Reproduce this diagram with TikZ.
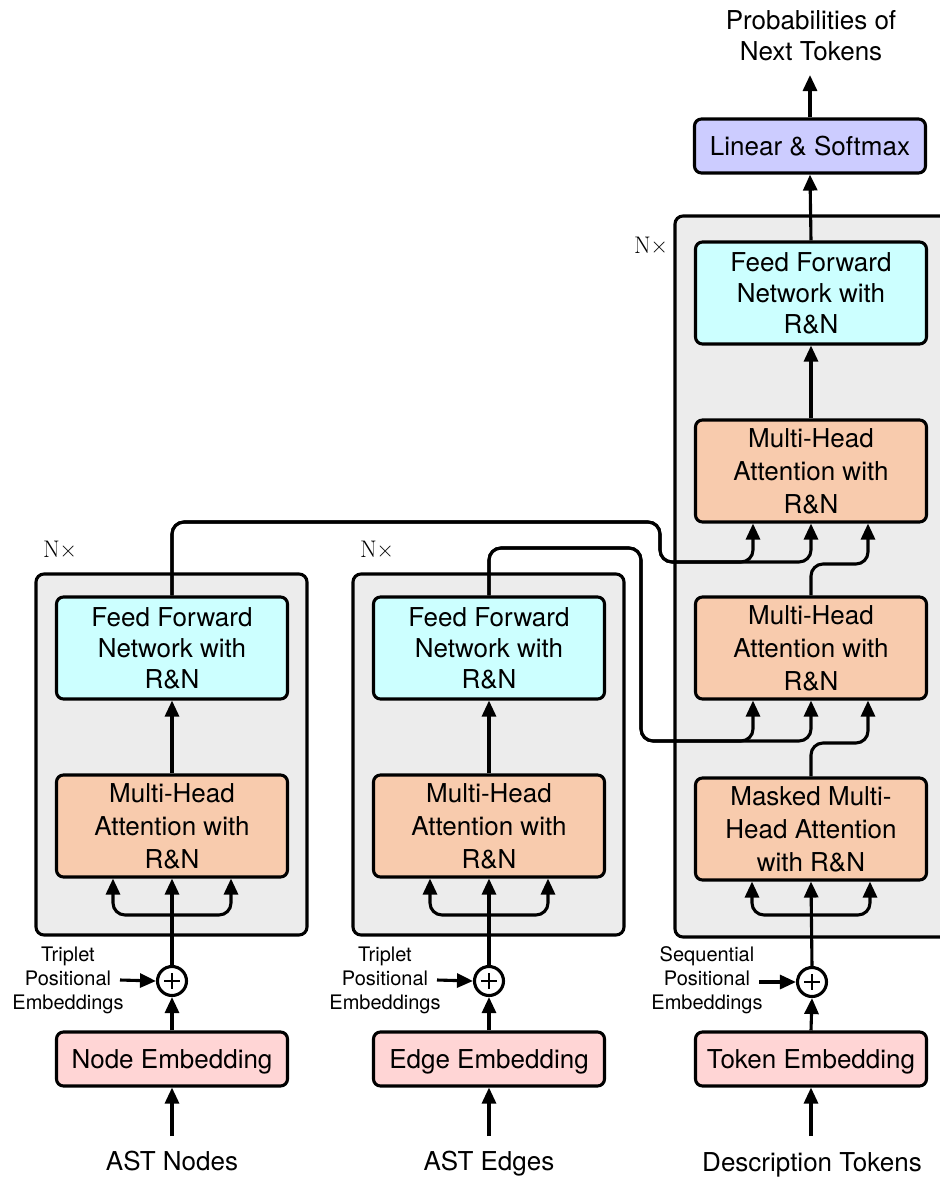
\documentclass[tikz,border=0pt]{standalone}
\usepackage{fontspec}
\newfontfamily\hv{TeX Gyre Heros}
\usetikzlibrary{arrows.meta,calc}
\definecolor{cgray}{HTML}{ECECEC}
\definecolor{cpink}{HTML}{FFD5D5}
\definecolor{corange}{HTML}{F8CBAD}
\definecolor{ccyan}{HTML}{CCFFFF}
\definecolor{clav}{HTML}{CCCCFF}
\begin{document}
\begin{tikzpicture}[x=1pt,y=-1pt,
  lw/.style={line width=3.1pt},
  container/.style={draw,lw,fill=cgray,rounded corners=8pt},
  blk/.style={draw,lw,rounded corners=7pt,minimum width=231pt,minimum height=102pt,align=center,font=\hv\fontsize{26}{31}\selectfont,inner sep=2pt},
  embblk/.style={blk,minimum height=54pt,text height=24pt,text depth=5.5pt},
  ffn/.style={blk,fill=ccyan},
  mha/.style={blk,fill=corange,font=\hv\fontsize{26}{33}\selectfont},
  emb/.style={embblk,fill=cpink},
  lin/.style={embblk,fill=clav},
  plusnode/.style={draw,lw,circle,minimum size=29pt,inner sep=0pt,fill=white,
    path picture={\draw[line width=1.5pt] (path picture bounding box.center) +(-8,0) -- +(8,0) (path picture bounding box.center) +(0,-8) -- +(0,8);}},
  lbl/.style={align=center,font=\hv\fontsize{26}{31}\selectfont},
  small/.style={align=center,font=\hv\fontsize{20}{24}\selectfont},
  nx/.style={font=\fontsize{24}{28}\selectfont},
  arr/.style={lw,-{Triangle[length=16pt,width=14pt]}},
  conn/.style={lw,rounded corners=12pt},
]
\useasboundingbox (0,0) rectangle (940,1179);
\clip (0,0) rectangle (940,1179);

% containers
\draw[container] (36,574) rectangle (307,935);
\draw[container] (353,574) rectangle (624,935);
\draw[container] (675,216) rectangle (960,937);

\node[nx] (nx1) at (60,549) {N×};
\node[nx] (nx2) at (377,549) {N×};
\node[nx] (nx3) at (651,245) {N×};

% encoder 1
\node[emb] (ne) at (172,1059) {Node Embedding};
\node[plusnode] (p1) at (172,981) {};
\node[mha] (m1) at (172,826) {Multi-Head\\Attention with\\R\&N};
\node[ffn] (f1) at (172,648) {Feed Forward\\Network with\\R\&N};
\node[lbl,anchor=base] (ast1) at (172,1170) {AST Nodes};
\node[small] (t1) at (68,980) {Triplet\\Positional\\Embeddings};
\coordinate (i1) at (172,1136);
\coordinate (pe1) at (120,980);
\coordinate (s1) at (172,915);

% encoder 2
\node[emb] (ee) at (489,1059) {Edge Embedding};
\node[plusnode] (p2) at (489,981) {};
\node[mha] (m2) at (489,826) {Multi-Head\\Attention with\\R\&N};
\node[ffn] (f2) at (489,648) {Feed Forward\\Network with\\R\&N};
\node[lbl,anchor=base] (ast2) at (489,1170) {AST Edges};
\node[small] (t2) at (385,980) {Triplet\\Positional\\Embeddings};
\coordinate (i2) at (489,1136);
\coordinate (pe2) at (437,980);
\coordinate (s2) at (489,915);

% decoder
\node[emb] (te) at (811,1059) {Token Embedding};
\node[plusnode] (p3) at (812,982) {};
\node[mha] (dm0) at (811,829) {Masked Multi-\\Head Attention\\with R\&N};
\node[mha] (dm1) at (811,648) {Multi-Head\\Attention with\\R\&N};
\node[mha] (dm2) at (811,471) {Multi-Head\\Attention with\\R\&N};
\node[ffn] (df) at (811,293) {Feed Forward\\Network with\\R\&N};
\node[lin] (ls) at (810,146) {Linear \& Softmax};
\node[lbl] (prob) at (811,36) {Probabilities of\\Next Tokens};
\node[lbl,anchor=base] (desc) at (812,1171) {Description Tokens};
\node[small] (t3) at (707,980) {Sequential\\Positional\\Embeddings};
\coordinate (i3) at (811,1136);
\coordinate (pe3) at (759,982);
\coordinate (s3) at (811,915);
\coordinate (out) at (810,75);

% encoder 1 connectors
\draw[arr] (i1) -- (ne.south);
\draw[arr] (ne.north) -- (p1.south);
\draw[arr] (pe1) -- (p1.west);
\draw[arr] (p1.north) -- (m1.south);
\draw[arr,conn] (s1) -| ([xshift=-59pt]m1.south);
\draw[arr,conn] (s1) -| ([xshift=59pt]m1.south);
\draw[arr] (m1.north) -- (f1.south);

% encoder 2 connectors
\draw[arr] (i2) -- (ee.south);
\draw[arr] (ee.north) -- (p2.south);
\draw[arr] (pe2) -- (p2.west);
\draw[arr] (p2.north) -- (m2.south);
\draw[arr,conn] (s2) -| ([xshift=-59pt]m2.south);
\draw[arr,conn] (s2) -| ([xshift=59pt]m2.south);
\draw[arr] (m2.north) -- (f2.south);

% decoder connectors
\draw[arr] (i3) -- (te.south);
\draw[arr] (te.north) -- (p3.south);
\draw[arr] (pe3) -- (p3.west);
\draw[arr] (p3.north) -- (dm0.south);
\draw[arr,conn] (s3) -| ([xshift=-59pt]dm0.south);
\draw[arr,conn] (s3) -| ([xshift=59pt]dm0.south);

\draw[arr,conn] (f2.north) -- (489,548) -- (641,548) -- (641,741) -- (753,741) -- ([xshift=-58pt]dm1.south);
\draw[arr,conn] (f2.north) -- (489,548) -- (641,548) -- (641,741) -- (811,741) -- (dm1.south);
\draw[arr,conn] (dm0.north) -- (811,743) -- (868,743) -- ([xshift=57pt]dm1.south);

\draw[arr,conn] (f1.north) -- (172,522) -- (660,522) -- (660,562) -- (753,562) -- ([xshift=-58pt]dm2.south);
\draw[arr,conn] (f1.north) -- (172,522) -- (660,522) -- (660,562) -- (811,562) -- (dm2.south);
\draw[arr,conn] (dm1.north) -- (811,564) -- (868,564) -- ([xshift=57pt]dm2.south);

\draw[arr] (dm2.north) -- (df.south);
\draw[arr] (df.north) -- (ls.south);
\draw[arr] (ls.north) -- (out);
\end{tikzpicture}
\end{document}
